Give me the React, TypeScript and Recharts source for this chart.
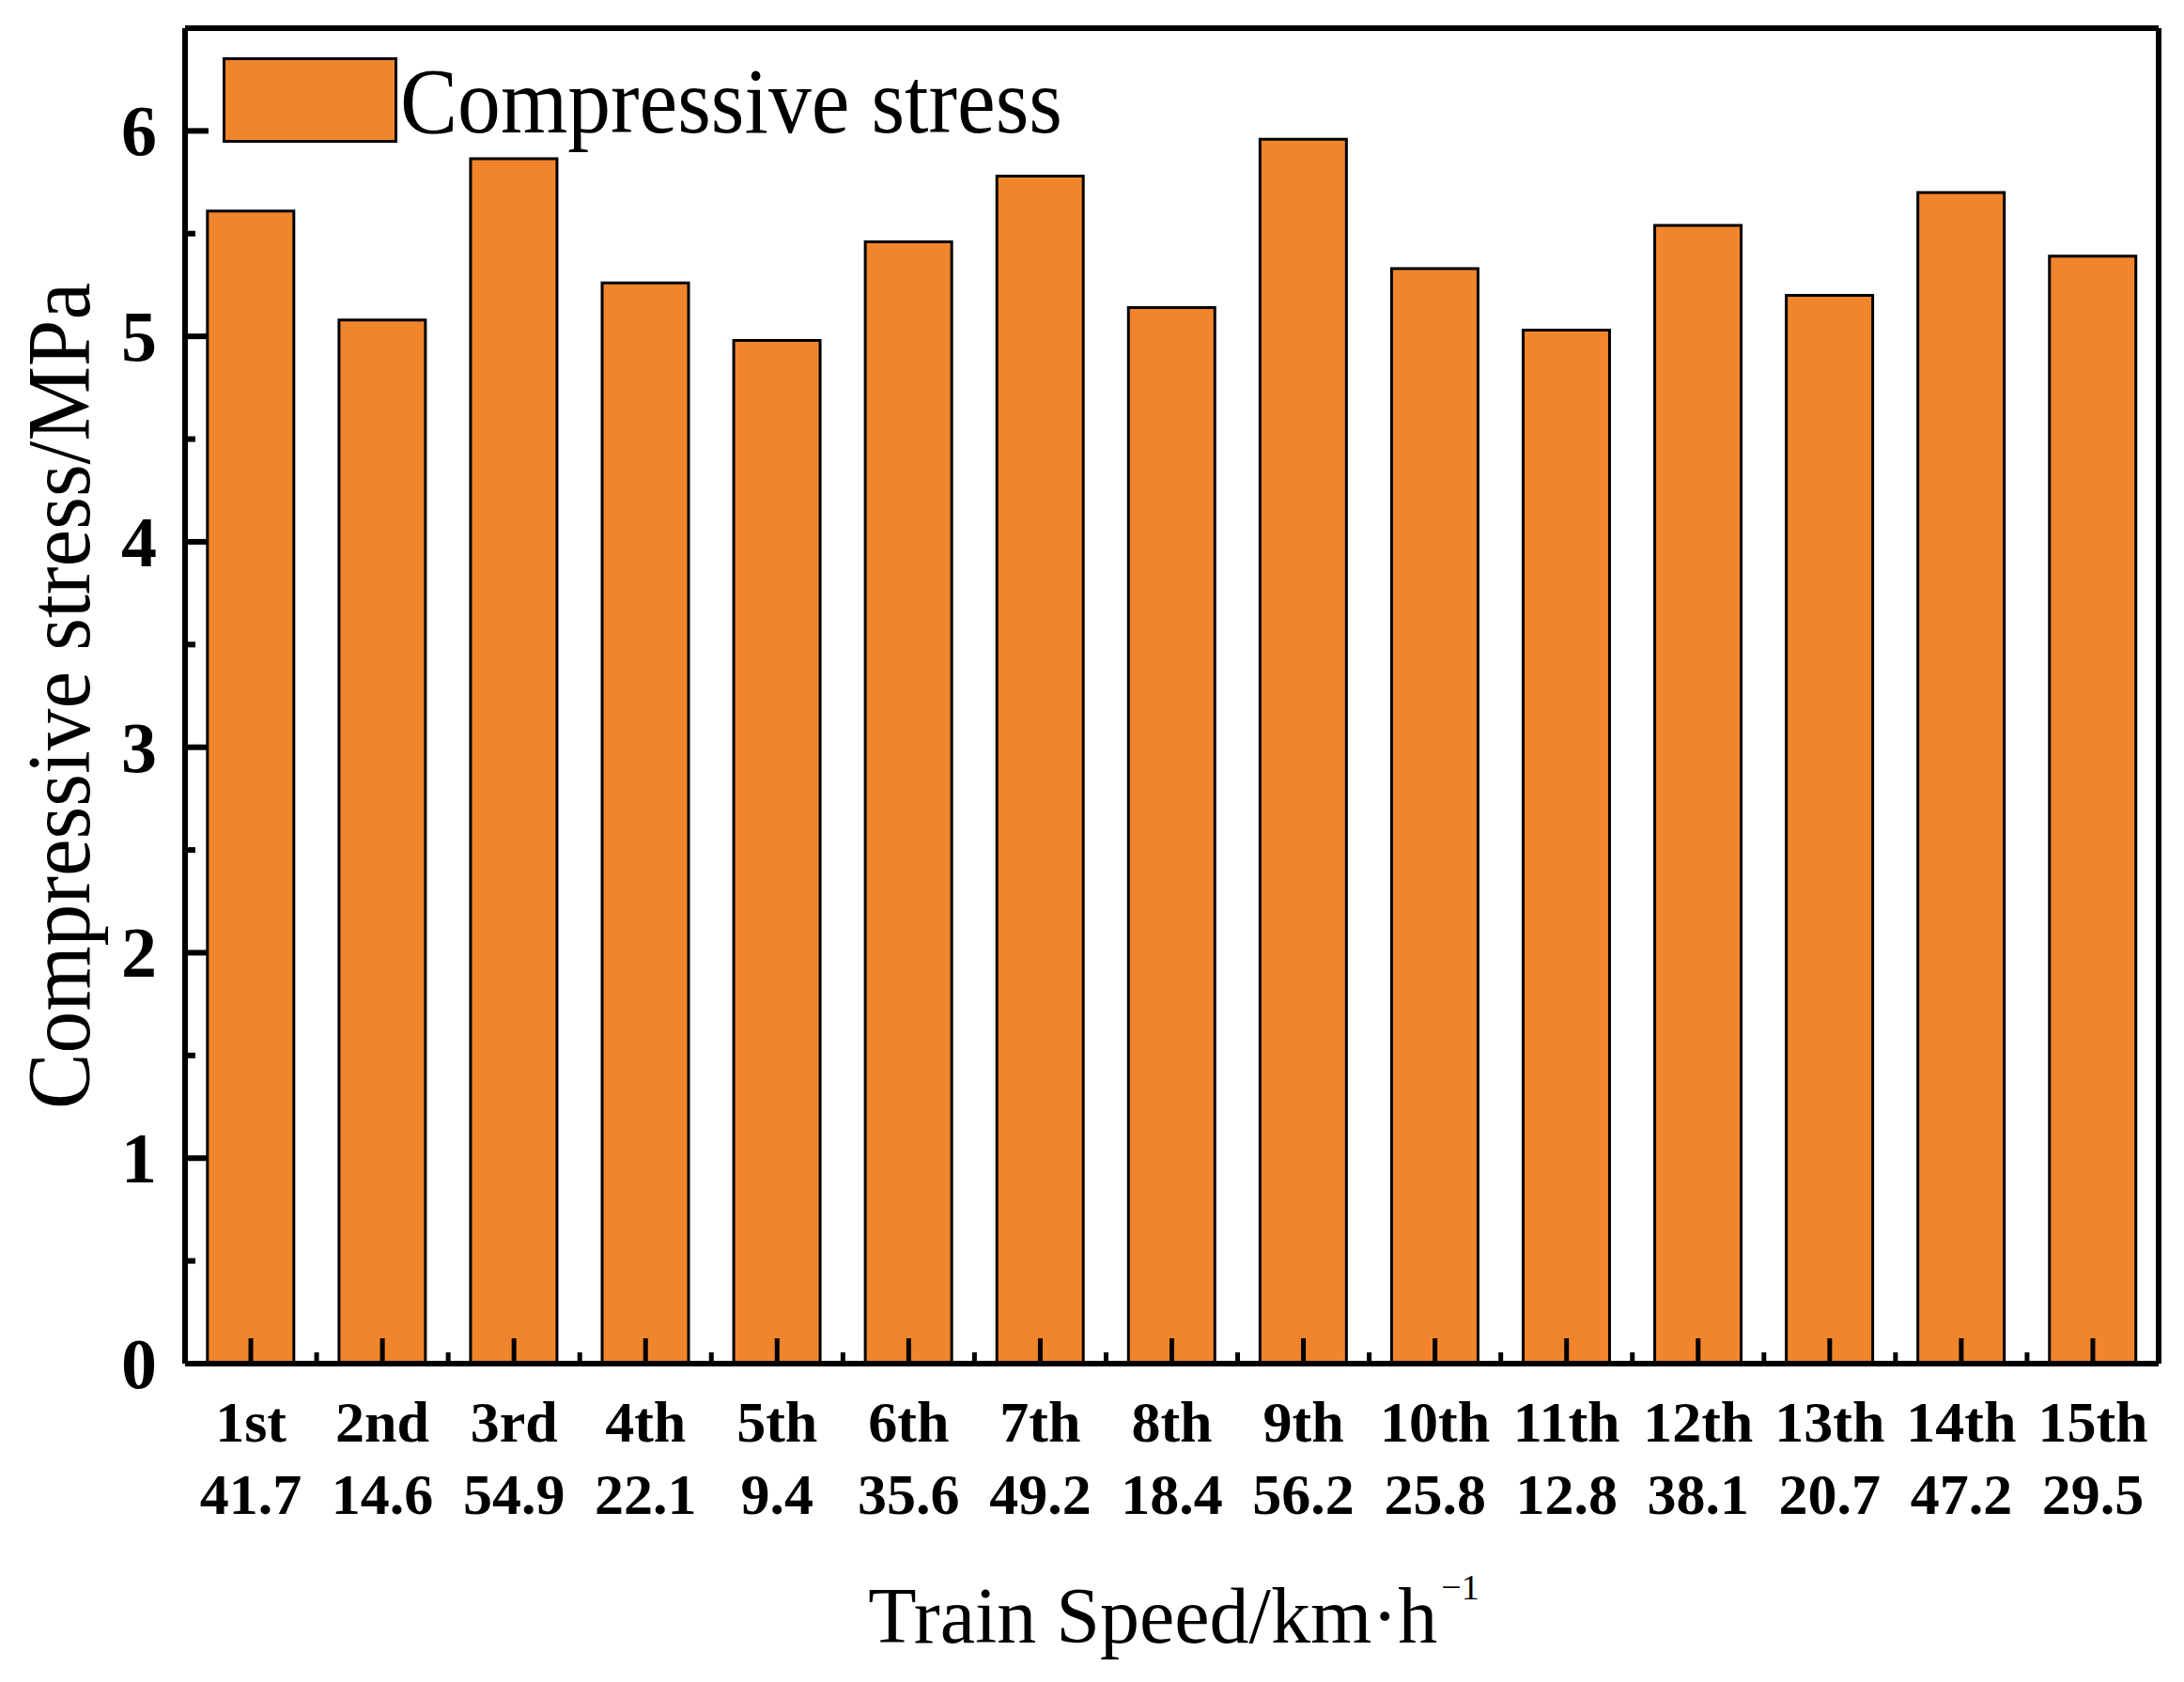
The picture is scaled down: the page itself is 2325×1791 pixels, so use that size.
import React from 'react'
import { BarChart, Bar, XAxis, YAxis, Legend } from 'recharts'

const ordinals = ['1st', '2nd', '3rd', '4th', '5th', '6th', '7th', '8th', '9th', '10th', '11th', '12th', '13th', '14th', '15th']
const speeds = ['41.7', '14.6', '54.9', '22.1', '9.4', '35.6', '49.2', '18.4', '56.2', '25.8', '12.8', '38.1', '20.7', '47.2', '29.5']
const stress = [5.61, 5.08, 5.865, 5.26, 4.98, 5.46, 5.78, 5.14, 5.96, 5.33, 5.03, 5.54, 5.2, 5.7, 5.39]
const yTicks = [0, 0.5, 1, 1.5, 2, 2.5, 3, 3.5, 4, 4.5, 5, 5.5, 6]
const majorYTicks = [0, 1, 2, 3, 4, 5, 6]

const data = ordinals.map((o, i) => ({ label: o, speed: speeds[i], stress: stress[i] }))

const W = 2325
const H = 1791
// top / right frame axes take 1px each
const M = { top: 29, right: 26, left: 0, bottom: 39 }
const Y_AXIS_W = 197
const X_AXIS_H = 300
const PLOT_W = W - M.left - M.right - 1 - Y_AXIS_W
const BAND = PLOT_W / ordinals.length

const SERIF = '"Liberation Serif", "Times New Roman", serif'
const ORANGE = '#F0852B'

const XTick = ({ x, y, index }: any) => {
  const d = data[index]
  return (
    <g>
      <line x1={x} x2={x} y1={y} y2={y - 27} stroke="#000" strokeWidth={5} />
      {index < ordinals.length - 1 && (
        <line x1={x + BAND / 2} x2={x + BAND / 2} y1={y} y2={y - 12} stroke="#000" strokeWidth={5} />
      )}
      <text x={x} y={y + 83} textAnchor="middle" fontFamily={SERIF} fontWeight={700} fontSize={62} fill="#000">
        {d.label}
      </text>
      <text x={x} y={y + 160} textAnchor="middle" fontFamily={SERIF} fontWeight={700} fontSize={62} fill="#000">
        {d.speed}
      </text>
    </g>
  )
}

const YTick = ({ x, y, payload }: any) => {
  const major = majorYTicks.includes(payload.value)
  return (
    <g>
      <line x1={x} x2={x + (major ? 25 : 11)} y1={y} y2={y} stroke="#000" strokeWidth={6} />
      {major && (
        <text x={x - 30} y={y + 26} textAnchor="end" fontFamily={SERIF} fontWeight={700} fontSize={76} fill="#000">
          {payload.value}
        </text>
      )}
    </g>
  )
}

const YTitle = ({ viewBox }: any) => {
  const cy = viewBox.y + viewBox.height / 2
  const bx = 95
  return (
    <text
      x={bx}
      y={cy}
      transform={`rotate(-90, ${bx}, ${cy})`}
      textAnchor="middle"
      fontFamily={SERIF}
      fontSize={95}
      textLength={880}
      lengthAdjust="spacingAndGlyphs"
      fill="#000"
    >
      Compressive stress/MPa
    </text>
  )
}

const XTitle = ({ viewBox }: any) => {
  const cx = viewBox.x + viewBox.width / 2
  return (
    <text x={cx + 2} y={1749} textAnchor="middle" fontFamily={SERIF} fontSize={84} fill="#000">
      Train Speed/km·h
      <tspan fontSize={38} dx={4} dy={-46}>−1</tspan>
    </text>
  )
}

const LegendBox = () => (
  <svg width={900} height={110} style={{ display: 'block', overflow: 'visible' }}>
    <rect x={1.5} y={1.5} width={183} height={88} fill={ORANGE} stroke="#000" strokeWidth={3} />
    <text x={189} y={80} fontFamily={SERIF} fontSize={100} textLength={705} lengthAdjust="spacingAndGlyphs" fill="#000">
      Compressive stress
    </text>
  </svg>
)

function AxisTitle({ kind, viewBox }: any) {
  if (!viewBox) return null
  return kind === 'x' ? <XTitle viewBox={viewBox} /> : <YTitle viewBox={viewBox} />
}

export default function App() {
  return (
    <div style={{ width: W, height: H, background: '#fff' }}>
      <style>{'body{margin:0}'}</style>
      <BarChart width={W} height={H} data={data} margin={M} barCategoryGap="17%">
        <Bar dataKey="stress" fill={ORANGE} stroke="#000" strokeWidth={3} isAnimationActive={false} />
        <XAxis
          dataKey="label"
          height={X_AXIS_H}
          tickSize={0}
          tickMargin={0}
          tickLine={false}
          axisLine={{ stroke: '#000', strokeWidth: 6 }}
          tick={<XTick />}
          interval={0}
          label={<AxisTitle kind="x" />}
        />
        <XAxis
          xAxisId="top"
          dataKey="label"
          orientation="top"
          height={1}
          tick={false}
          tickLine={false}
          axisLine={{ stroke: '#000', strokeWidth: 6 }}
        />
        <YAxis
          width={Y_AXIS_W}
          domain={[0, 6.5]}
          ticks={yTicks}
          tickSize={0}
          tickMargin={0}
          tickLine={false}
          allowDataOverflow
          axisLine={{ stroke: '#000', strokeWidth: 6 }}
          tick={<YTick />}
          interval={0}
          label={<AxisTitle kind="y" />}
        />
        <YAxis
          yAxisId="r"
          orientation="right"
          width={1}
          domain={[0, 6.5]}
          tick={false}
          tickLine={false}
          axisLine={{ stroke: '#000', strokeWidth: 6 }}
        />
        <Legend
          layout="vertical"
          align="center"
          verticalAlign="middle"
          content={<LegendBox />}
          wrapperStyle={{ left: 237, top: 61, width: 900, height: 110 }}
        />
      </BarChart>
    </div>
  )
}
